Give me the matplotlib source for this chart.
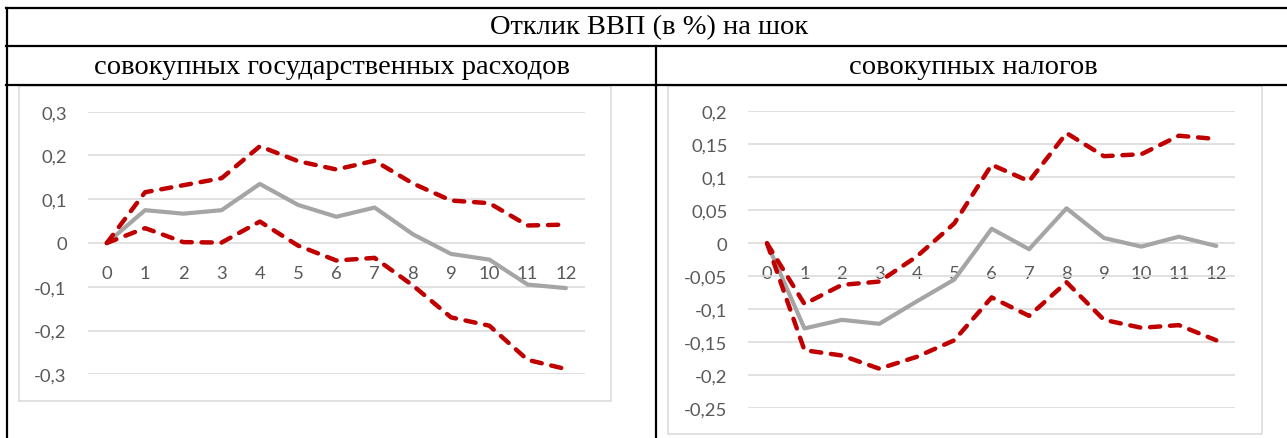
import matplotlib
matplotlib.use("Agg")
import matplotlib.pyplot as plt
from matplotlib.patches import Rectangle
from matplotlib.lines import Line2D
from matplotlib.ticker import FuncFormatter

# ---- data ----
title = "Отклик ВВП (в %) на шок"
sub_left = "совокупных государственных расходов"
sub_right = "совокупных налогов"
periods = [str(i) for i in range(13)]

gov_mid = [0, 0.075, 0.067, 0.075, 0.135, 0.087, 0.060, 0.081, 0.020, -0.025, -0.038, -0.095, -0.103]
gov_up = [0, 0.116, 0.132, 0.148, 0.221, 0.187, 0.168, 0.188, 0.136, 0.097, 0.091, 0.040, 0.042]
gov_lo = [0, 0.034, 0.002, 0.001, 0.049, -0.006, -0.040, -0.034, -0.097, -0.170, -0.189, -0.267, -0.288]

tax_mid = [0, -0.129, -0.116, -0.122, -0.088, -0.055, 0.022, -0.009, 0.053, 0.008, -0.005, 0.010, -0.004]
tax_up = [0, -0.092, -0.063, -0.058, -0.020, 0.030, 0.119, 0.094, 0.167, 0.132, 0.135, 0.163, 0.158]
tax_lo = [0, -0.162, -0.170, -0.190, -0.172, -0.147, -0.082, -0.110, -0.059, -0.116, -0.128, -0.124, -0.147]

gov_yticks = [-0.3, -0.2, -0.1, 0, 0.1, 0.2, 0.3]
tax_yticks = [-0.25, -0.2, -0.15, -0.1, -0.05, 0, 0.05, 0.1, 0.15, 0.2]

W, H = 1287, 439
fig = plt.figure(figsize=(W / 100, H / 100), dpi=100)
fig.patch.set_facecolor("white")

def fx(px):
    return px / W

def fy(py):
    return 1 - py / H

GRAY = "#a5a5a5"
RED = "#c00000"
GRID = "#d9d9d9"
TXT = "#595959"
TICKFONT = "Lato"
TICKSIZE = 13.3

def fmt(v, pos):
    if abs(v) < 1e-9:
        return "0"
    s = ("%.2f" % v).rstrip("0").rstrip(".")
    return s.replace(".", ",")

def make_chart(rect_px, ylim, yticks, mid, up, lo):
    x0, x1, ytop, ybot = rect_px
    ax = fig.add_axes([fx(x0), fy(ybot), fx(x1 - x0), fy(ytop) - fy(ybot)])
    xs = list(range(len(periods)))
    ax.plot(xs, mid, color=GRAY, lw=3.0, solid_capstyle="round", solid_joinstyle="round", zorder=3)
    for s in (up, lo):
        ax.plot(xs, s, color=RED, lw=3.2, dashes=(2.3, 2.2), dash_capstyle="round",
                dash_joinstyle="round", zorder=4)
    ax.set_xlim(-0.5, len(periods) - 0.5)
    ax.set_ylim(*ylim)
    ax.set_yticks(yticks)
    ax.yaxis.set_major_formatter(FuncFormatter(fmt))
    ax.set_xticks(xs)
    ax.set_xticklabels(periods)
    ax.grid(axis="y", color=GRID, lw=1.1)
    ax.set_axisbelow(True)
    for sp in ax.spines.values():
        sp.set_visible(False)
    ax.spines["bottom"].set_position(("data", 0))
    ax.tick_params(axis="y", length=0, pad=15, labelsize=TICKSIZE, labelcolor=TXT)
    ax.tick_params(axis="x", length=0, pad=15.5, labelsize=TICKSIZE, labelcolor=TXT)
    for lab in ax.get_xticklabels() + ax.get_yticklabels():
        lab.set_fontfamily(TICKFONT)
    ax.patch.set_alpha(0)
    return ax

make_chart((87.7, 585.0, 112.7, 375.3), (-0.3, 0.3), gov_yticks, gov_mid, gov_up, gov_lo)
make_chart((748.3, 1235.0, 112.3, 409.3), (-0.25, 0.2), tax_yticks, tax_mid, tax_up, tax_lo)

# chart frames
for (x0, y0, x1, y1) in [(19, 87, 611, 402), (668, 87, 1262, 435)]:
    fig.patches.append(Rectangle((fx(x0), fy(y1)), fx(x1 - x0), fy(y0) - fy(y1),
                                 transform=fig.transFigure, fill=False,
                                 edgecolor=GRID, lw=1.1, zorder=0))

# table lines
LW = 1.6
for y in (9, 46.5, 86):
    fig.lines.append(Line2D([fx(6), 1.0], [fy(y), fy(y)], transform=fig.transFigure,
                            color="black", lw=LW))
fig.lines.append(Line2D([fx(6.5), fx(6.5)], [fy(9), 0], transform=fig.transFigure,
                        color="black", lw=LW))
fig.lines.append(Line2D([fx(655.5), fx(655.5)], [fy(46.5), 0], transform=fig.transFigure,
                        color="black", lw=LW))

SERIF = "Liberation Serif"
HSIZE = 20.5
fig.text(fx(649), fy(28), title, ha="center", va="center", fontsize=HSIZE,
         family=SERIF, color="black")
fig.text(fx(332.5), fy(67), sub_left, ha="center", va="center", fontsize=HSIZE,
         family=SERIF, color="black")
fig.text(fx(973.5), fy(67), sub_right, ha="center", va="center", fontsize=HSIZE,
         family=SERIF, color="black")

fig.savefig("out.png", dpi=100, facecolor="white")
